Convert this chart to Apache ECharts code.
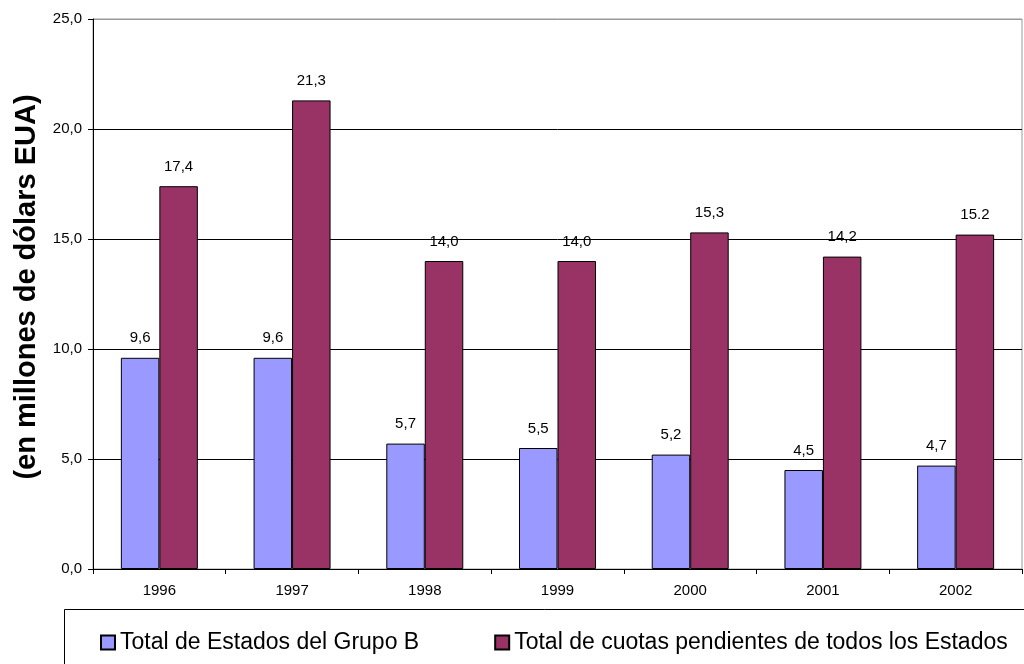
<!DOCTYPE html>
<html>
<head>
<meta charset="utf-8">
<script src="https://cdn.jsdelivr.net/npm/echarts@6/dist/echarts.min.js"></script>
<style>html,body{margin:0;padding:0;background:#fff;}#c{width:1024px;height:664px;}</style>
</head>
<body>
<div id="c"></div>
<script>
var years = ['1996','1997','1998','1999','2000','2001','2002'];
var grupoB = [9.6, 9.6, 5.7, 5.5, 5.2, 4.5, 4.7];
var todos = [17.4, 21.3, 14.0, 14.0, 15.3, 14.2, 15.2];
var grupoBLabels = ['9,6','9,6','5,7','5,5','5,2','4,5','4,7'];
var todosLabels = ['17,4','21,3','14,0','14,0','15,3','14,2','15.2'];
var seriesNames = ['Total de Estados del Grupo B', 'Total de cuotas pendientes de todos los Estados'];
var yAxisName = '(en millones de dólars EUA)';

var FONT = 'Liberation Sans, Arial, sans-serif';
var chart = echarts.init(document.getElementById('c'), null, {renderer: 'canvas'});
chart.setOption({
  animation: false,
  backgroundColor: '#fff',
  textStyle: {fontFamily: FONT},
  grid: {left: 93, right: 2, top: 19, bottom: 95, show: true, borderColor: '#999', borderWidth: 1},
  graphic: [{
    type: 'rect', left: 62, top: 607, z: -1,
    shape: {width: 980, height: 80},
    style: {fill: 'none', stroke: '#000', lineWidth: 1}
  }],
  legend: {
    left: 95, top: 626, itemWidth: 14, itemHeight: 14, itemGap: 75,
    icon: 'rect',
    textStyle: {fontSize: 23, color: '#000', fontFamily: FONT},
    data: seriesNames
  },
  xAxis: {
    type: 'category', data: years,
    axisLine: {lineStyle: {color: '#000', width: 1}},
    axisTick: {show: true, length: 5, lineStyle: {color: '#000'}},
    axisLabel: {color: '#000', fontSize: 15, margin: 14, fontFamily: FONT}
  },
  yAxis: {
    type: 'value', min: 0, max: 25, interval: 5,
    name: yAxisName, nameLocation: 'middle', nameGap: 50,
    nameTextStyle: {fontSize: 29, fontWeight: 'bold', color: '#000', fontFamily: FONT, padding: [0, 0, 0, 14]},
    axisLine: {show: true, lineStyle: {color: '#000', width: 1}},
    axisTick: {show: true, length: 5, lineStyle: {color: '#000'}},
    axisLabel: {color: '#000', fontSize: 15, margin: 11, fontFamily: FONT,
      formatter: function (v) { return v.toFixed(1).replace('.', ','); }},
    splitLine: {show: true, lineStyle: {color: ['#000','#000','#000','#000','#000','#999'], width: 1}}
  },
  series: [{
    name: seriesNames[0], type: 'bar', data: grupoB,
    barGap: '0%', barCategoryGap: '42%',
    itemStyle: {color: '#9999FF', borderColor: '#000', borderWidth: 1},
    label: {show: true, position: 'top', distance: 12, color: '#000', fontSize: 15, fontFamily: FONT,
      formatter: function (p) { return grupoBLabels[p.dataIndex]; }}
  }, {
    name: seriesNames[1], type: 'bar', data: todos,
    itemStyle: {color: '#993366', borderColor: '#000', borderWidth: 1},
    label: {show: true, position: 'top', distance: 12, color: '#000', fontSize: 15, fontFamily: FONT,
      formatter: function (p) { return todosLabels[p.dataIndex]; }}
  }]
});
</script>
</body>
</html>
